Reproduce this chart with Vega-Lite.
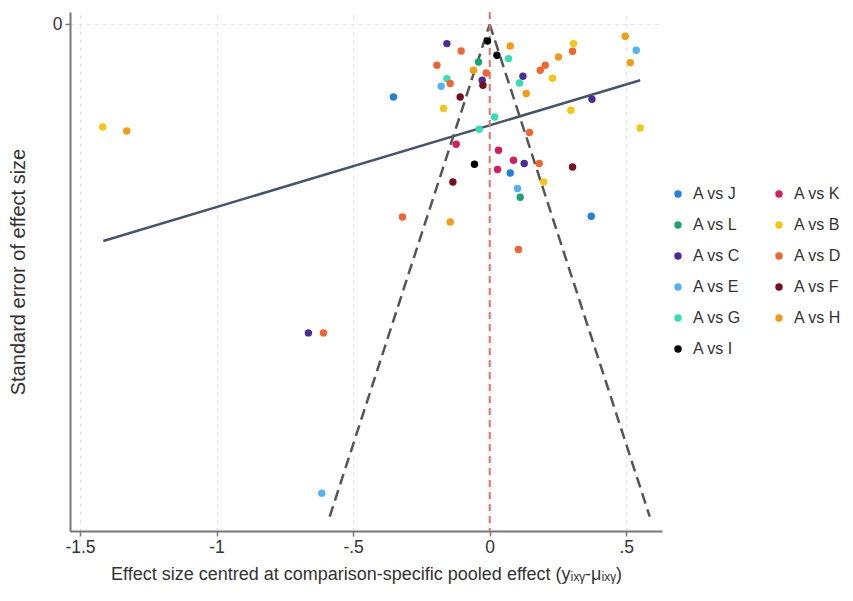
{
  "$schema": "https://vega.github.io/schema/vega-lite/v6.json",
  "width": 592,
  "height": 519,
  "autosize": {"type": "none"},
  "padding": {"left": 70, "top": 12, "right": 191, "bottom": 70},
  "background": "white",
  "config": {
    "font": "Liberation Sans",
    "view": {"stroke": null}
  },
  "datasets": {
    "points": [
      {"comparison": "A vs B", "x": -1.4168, "se": 0.0625},
      {"comparison": "A vs H", "x": -1.3289, "se": 0.065},
      {"comparison": "A vs C", "x": -0.1568, "se": 0.01175},
      {"comparison": "A vs D", "x": -0.1044, "se": 0.01626},
      {"comparison": "A vs D", "x": -0.1934, "se": 0.02497},
      {"comparison": "A vs G", "x": -0.1568, "se": 0.03307},
      {"comparison": "A vs E", "x": -0.1777, "se": 0.03776},
      {"comparison": "A vs D", "x": -0.1447, "se": 0.03611},
      {"comparison": "A vs L", "x": -0.041, "se": 0.02296},
      {"comparison": "A vs H", "x": -0.0593, "se": 0.02801},
      {"comparison": "A vs D", "x": -0.0128, "se": 0.02966},
      {"comparison": "A vs I", "x": -0.008, "se": 0.01017},
      {"comparison": "A vs I", "x": 0.0264, "se": 0.01888},
      {"comparison": "A vs H", "x": 0.0751, "se": 0.01322},
      {"comparison": "A vs G", "x": 0.0689, "se": 0.02089},
      {"comparison": "A vs C", "x": 0.1216, "se": 0.03167},
      {"comparison": "A vs G", "x": 0.1092, "se": 0.03575},
      {"comparison": "A vs H", "x": 0.1337, "se": 0.0422},
      {"comparison": "A vs C", "x": -0.0275, "se": 0.0341},
      {"comparison": "A vs F", "x": -0.0249, "se": 0.03715},
      {"comparison": "A vs F", "x": -0.1081, "se": 0.04428},
      {"comparison": "A vs B", "x": -0.1692, "se": 0.05134},
      {"comparison": "A vs J", "x": -0.3524, "se": 0.04428},
      {"comparison": "A vs H", "x": 0.252, "se": 0.01991},
      {"comparison": "A vs B", "x": 0.307, "se": 0.01175},
      {"comparison": "A vs D", "x": 0.3033, "se": 0.01644},
      {"comparison": "A vs D", "x": 0.185, "se": 0.02801},
      {"comparison": "A vs D", "x": 0.2033, "se": 0.02497},
      {"comparison": "A vs B", "x": 0.23, "se": 0.03289},
      {"comparison": "A vs H", "x": 0.4963, "se": 0.00731},
      {"comparison": "A vs E", "x": 0.5366, "se": 0.01583},
      {"comparison": "A vs H", "x": 0.5147, "se": 0.02333},
      {"comparison": "A vs C", "x": 0.3744, "se": 0.04568},
      {"comparison": "A vs B", "x": 0.2974, "se": 0.05238},
      {"comparison": "A vs B", "x": 0.5513, "se": 0.06315},
      {"comparison": "A vs G", "x": 0.0176, "se": 0.05646},
      {"comparison": "A vs G", "x": -0.0385, "se": 0.06395},
      {"comparison": "A vs D", "x": 0.1458, "se": 0.06596},
      {"comparison": "A vs K", "x": -0.1227, "se": 0.07308},
      {"comparison": "A vs K", "x": 0.0322, "se": 0.07674},
      {"comparison": "A vs I", "x": -0.0557, "se": 0.08526},
      {"comparison": "A vs K", "x": 0.0872, "se": 0.08283},
      {"comparison": "A vs C", "x": 0.1264, "se": 0.08484},
      {"comparison": "A vs D", "x": 0.1813, "se": 0.08484},
      {"comparison": "A vs K", "x": 0.0286, "se": 0.08849},
      {"comparison": "A vs J", "x": 0.0751, "se": 0.09056},
      {"comparison": "A vs F", "x": 0.3033, "se": 0.08691},
      {"comparison": "A vs F", "x": -0.1348, "se": 0.09604},
      {"comparison": "A vs E", "x": 0.1018, "se": 0.10006},
      {"comparison": "A vs B", "x": 0.1971, "se": 0.09604},
      {"comparison": "A vs L", "x": 0.1117, "se": 0.10536},
      {"comparison": "A vs D", "x": -0.3194, "se": 0.11736},
      {"comparison": "A vs H", "x": -0.1447, "se": 0.1204},
      {"comparison": "A vs J", "x": 0.3718, "se": 0.11693},
      {"comparison": "A vs D", "x": 0.1055, "se": 0.13721},
      {"comparison": "A vs C", "x": -0.6637, "se": 0.188},
      {"comparison": "A vs D", "x": -0.6088, "se": 0.188},
      {"comparison": "A vs E", "x": -0.6147, "se": 0.28563}
    ],
    "fit": [
      {"x": -1.4147, "se": 0.132},
      {"x": 0.551, "se": 0.0341}
    ],
    "funnel": [
      {"side": "lower", "x": 0, "se": 0},
      {"side": "lower", "x": -0.586, "se": 0.3},
      {"side": "upper", "x": 0, "se": 0},
      {"side": "upper", "x": 0.586, "se": 0.3}
    ],
    "ref": [
      {"x": 0}
    ]
  },
  "layer": [
    {
      "data": {"name": "points"},
      "mark": {"type": "circle", "size": 0, "opacity": 0},
      "encoding": {
        "x": {
          "field": "x", "type": "quantitative",
          "scale": {"domain": [-1.5366, 0.6308], "nice": false, "zero": false},
          "axis": {
            "values": [-1.5, -1, -0.5, 0, 0.5],
            "labelExpr": "datum.value == 0 ? '0' : replace(replace(format(datum.value, '.1~f'), '0.', '.'), '\u2212', '-')",
            "title": "Effect size centred at comparison-specific pooled effect (yᵢₓᵧ-μᵢₓᵧ)",
            "grid": true, "gridColor": "#e4e4e4", "gridDash": [4, 4], "gridWidth": 1,
            "domainColor": "#777777", "domainWidth": 2,
            "tickColor": "#777777", "tickSize": 5, "tickWidth": 1.5,
            "labelFontSize": 17.5, "labelColor": "#333333", "labelPadding": 2,
            "titleFontSize": 18, "titleFontWeight": "normal", "titleColor": "#333333", "titlePadding": 10
          }
        },
        "y": {
          "field": "se", "type": "quantitative",
          "scale": {"domain": [-0.0075, 0.3087], "reverse": true, "nice": false, "zero": false},
          "axis": {
            "values": [0],
            "labelExpr": "'0'",
            "title": "Standard error of effect size",
            "grid": true, "gridColor": "#e4e4e4", "gridDash": [4, 4], "gridWidth": 1,
            "domainColor": "#777777", "domainWidth": 2,
            "tickColor": "#777777", "tickSize": 5, "tickWidth": 1.5,
            "labelFontSize": 17.5, "labelColor": "#333333", "labelPadding": 3,
            "titleFontSize": 20, "titleFontWeight": "normal", "titleColor": "#333333", "titlePadding": 24
          }
        }
      }
    },
    {
      "data": {"name": "fit"},
      "mark": {"type": "line", "color": "#46566a", "strokeWidth": 2.5},
      "encoding": {
        "x": {"field": "x", "type": "quantitative"},
        "y": {"field": "se", "type": "quantitative"}
      }
    },
    {
      "data": {"name": "funnel"},
      "mark": {"type": "line", "color": "#555555", "strokeWidth": 2.5, "strokeDash": [11, 6]},
      "encoding": {
        "x": {"field": "x", "type": "quantitative"},
        "y": {"field": "se", "type": "quantitative"},
        "detail": {"field": "side", "type": "nominal"}
      }
    },
    {
      "data": {"name": "ref"},
      "mark": {"type": "rule", "color": "#e8706a", "strokeWidth": 2, "strokeDash": [7, 5]},
      "encoding": {
        "x": {"field": "x", "type": "quantitative"}
      }
    },
    {
      "data": {"name": "points"},
      "mark": {"type": "circle", "size": 55, "opacity": 1},
      "encoding": {
        "x": {"field": "x", "type": "quantitative"},
        "y": {"field": "se", "type": "quantitative"},
        "color": {
          "field": "comparison", "type": "nominal",
          "scale": {
            "domain": ["A vs J", "A vs L", "A vs C", "A vs E", "A vs G", "A vs I", "A vs K", "A vs B", "A vs D", "A vs F", "A vs H"],
            "range": ["#1f80e0", "#17a673", "#4a2b9b", "#4fb3f5", "#2ee0b5", "#000000", "#d81b60", "#f5c710", "#f26430", "#7b0d1e", "#f39c12"]
          },
          "legend": {
            "title": null,
            "orient": "none", "legendX": 600, "legendY": 174,
            "columns": 2, "columnPadding": 29, "rowPadding": 15,
            "symbolType": "circle", "symbolSize": 55, "symbolOpacity": 1,
            "labelFontSize": 16, "labelColor": "#333333", "labelOffset": 7
          }
        }
      }
    }
  ]
}
